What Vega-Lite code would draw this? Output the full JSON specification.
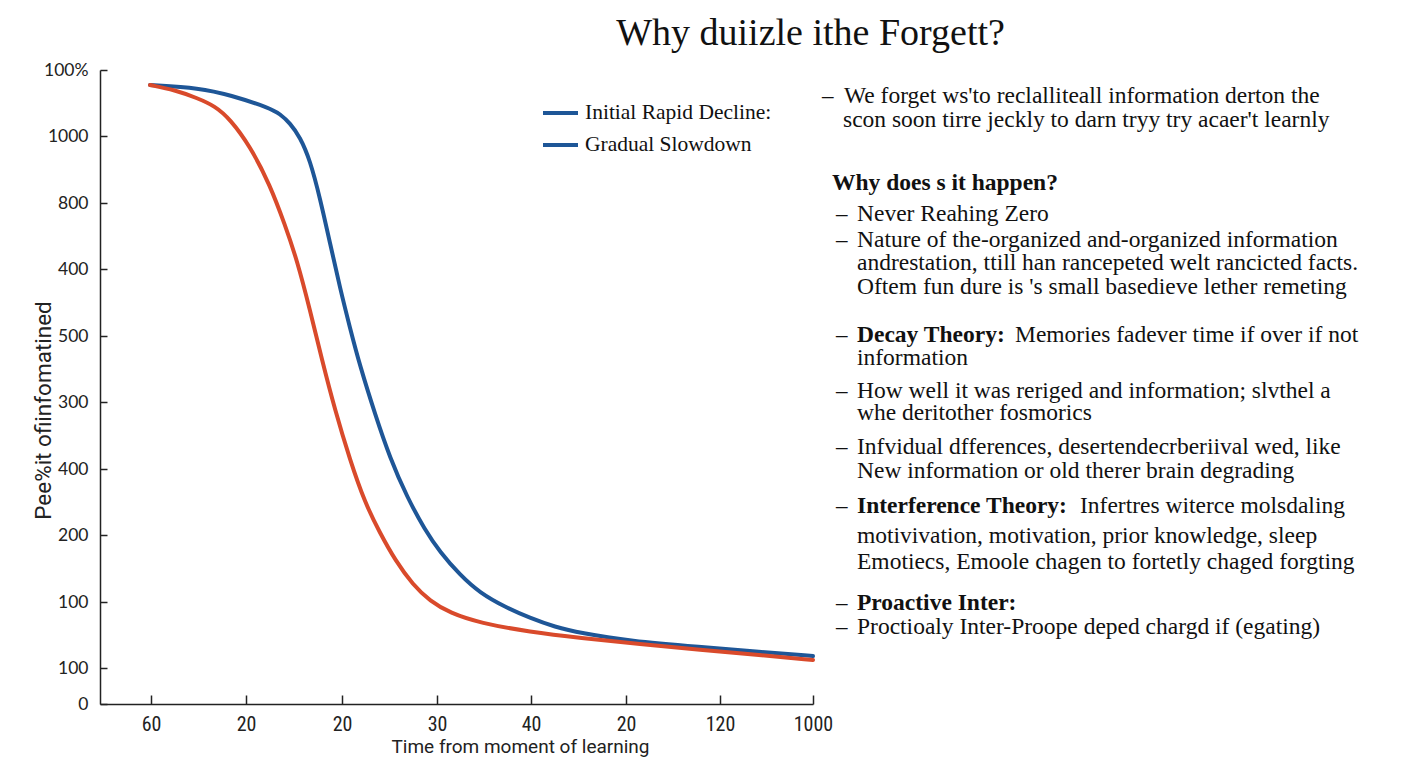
{
  "$schema": "https://vega.github.io/schema/vega-lite/v6.json",
  "width": 713,
  "height": 634,
  "autosize": {"type": "none"},
  "padding": {"left": 100, "top": 70, "right": 595, "bottom": 64},
  "background": "white",
  "title": {
    "text": "Why duiizle ithe Forgett?",
    "font": "Liberation Serif",
    "fontSize": 38,
    "fontWeight": "normal",
    "color": "#111",
    "anchor": "middle",
    "dx": 354,
    "offset": 8
  },
  "config": {
    "view": {"stroke": null},
    "axis": {"grid": false, "domainColor": "#222", "tickColor": "#222", "domainWidth": 1.5, "tickWidth": 1.5, "labelColor": "#222", "titleColor": "#222", "titleFontWeight": "normal"}
  },
  "resolve": {"scale": {"color": "independent"}, "legend": {"color": "independent"}},
  "datasets": {
    "curves": [
      {"series": "Gradual Slowdown", "t": 50, "r": 619},
      {"series": "Gradual Slowdown", "t": 100, "r": 616},
      {"series": "Gradual Slowdown", "t": 130, "r": 609},
      {"series": "Gradual Slowdown", "t": 170, "r": 596},
      {"series": "Gradual Slowdown", "t": 180, "r": 590},
      {"series": "Gradual Slowdown", "t": 190, "r": 581},
      {"series": "Gradual Slowdown", "t": 200, "r": 567},
      {"series": "Gradual Slowdown", "t": 210, "r": 544},
      {"series": "Gradual Slowdown", "t": 220, "r": 506},
      {"series": "Gradual Slowdown", "t": 230, "r": 461},
      {"series": "Gradual Slowdown", "t": 240, "r": 416},
      {"series": "Gradual Slowdown", "t": 250, "r": 376},
      {"series": "Gradual Slowdown", "t": 260, "r": 338},
      {"series": "Gradual Slowdown", "t": 275, "r": 290},
      {"series": "Gradual Slowdown", "t": 290, "r": 246},
      {"series": "Gradual Slowdown", "t": 307, "r": 207},
      {"series": "Gradual Slowdown", "t": 325, "r": 174},
      {"series": "Gradual Slowdown", "t": 340, "r": 152},
      {"series": "Gradual Slowdown", "t": 360, "r": 129},
      {"series": "Gradual Slowdown", "t": 380, "r": 111},
      {"series": "Gradual Slowdown", "t": 405, "r": 97},
      {"series": "Gradual Slowdown", "t": 430, "r": 86},
      {"series": "Gradual Slowdown", "t": 455, "r": 77},
      {"series": "Gradual Slowdown", "t": 480, "r": 71},
      {"series": "Gradual Slowdown", "t": 530, "r": 63},
      {"series": "Gradual Slowdown", "t": 600, "r": 57},
      {"series": "Gradual Slowdown", "t": 660, "r": 52},
      {"series": "Gradual Slowdown", "t": 713, "r": 48},
      {"series": "Initial Rapid Decline:", "t": 50, "r": 619},
      {"series": "Initial Rapid Decline:", "t": 75, "r": 614},
      {"series": "Initial Rapid Decline:", "t": 97, "r": 606},
      {"series": "Initial Rapid Decline:", "t": 115, "r": 598},
      {"series": "Initial Rapid Decline:", "t": 130, "r": 585},
      {"series": "Initial Rapid Decline:", "t": 150, "r": 558},
      {"series": "Initial Rapid Decline:", "t": 170, "r": 519},
      {"series": "Initial Rapid Decline:", "t": 185, "r": 479},
      {"series": "Initial Rapid Decline:", "t": 197, "r": 444},
      {"series": "Initial Rapid Decline:", "t": 210, "r": 394},
      {"series": "Initial Rapid Decline:", "t": 222, "r": 344},
      {"series": "Initial Rapid Decline:", "t": 235, "r": 294},
      {"series": "Initial Rapid Decline:", "t": 250, "r": 244},
      {"series": "Initial Rapid Decline:", "t": 265, "r": 201},
      {"series": "Initial Rapid Decline:", "t": 280, "r": 171},
      {"series": "Initial Rapid Decline:", "t": 295, "r": 144},
      {"series": "Initial Rapid Decline:", "t": 313, "r": 119},
      {"series": "Initial Rapid Decline:", "t": 330, "r": 103},
      {"series": "Initial Rapid Decline:", "t": 350, "r": 91},
      {"series": "Initial Rapid Decline:", "t": 380, "r": 81},
      {"series": "Initial Rapid Decline:", "t": 430, "r": 72},
      {"series": "Initial Rapid Decline:", "t": 480, "r": 66},
      {"series": "Initial Rapid Decline:", "t": 540, "r": 60},
      {"series": "Initial Rapid Decline:", "t": 600, "r": 54},
      {"series": "Initial Rapid Decline:", "t": 660, "r": 49},
      {"series": "Initial Rapid Decline:", "t": 713, "r": 44}
    ],
    "notes": [
      {"t": 744, "r": 608, "text": "We forget ws'to reclalliteall information derton the"},
      {"t": 743, "r": 584, "text": "scon soon tirre jeckly to darn tryy try acaer't learnly"},
      {"t": 757, "r": 490, "text": "Never Reahing Zero"},
      {"t": 757, "r": 464, "text": "Nature of the-organized and-organized information"},
      {"t": 757, "r": 441, "text": "andrestation, ttill han rancepeted welt rancicted facts."},
      {"t": 757, "r": 417, "text": "Oftem fun dure is 's small basedieve lether remeting"},
      {"t": 915, "r": 369, "text": "Memories fadever time if over if not"},
      {"t": 757, "r": 346, "text": "information"},
      {"t": 757, "r": 313, "text": "How well it was reriged and information; slvthel a"},
      {"t": 757, "r": 291, "text": "whe deritother fosmorics"},
      {"t": 757, "r": 257, "text": "Infvidual dfferences, desertendecrberiival wed, like"},
      {"t": 757, "r": 233, "text": "New information or old therer brain degrading"},
      {"t": 980, "r": 198, "text": "Infertres witerce molsdaling"},
      {"t": 757, "r": 168, "text": "motivivation, motivation, prior knowledge, sleep"},
      {"t": 757, "r": 142, "text": "Emotiecs, Emoole chagen to fortetly chaged forgting"},
      {"t": 757, "r": 77, "text": "Proctioaly Inter-Proope deped chargd if (egating)"}
    ],
    "boldNotes": [
      {"t": 732, "r": 521, "text": "Why does  s it happen?"},
      {"t": 757, "r": 369, "text": "Decay Theory:"},
      {"t": 757, "r": 198, "text": "Interference Theory:"},
      {"t": 757, "r": 101, "text": "Proactive Inter:"}
    ],
    "dashes": [
      {"t": 722, "r": 608, "text": "–"},
      {"t": 736, "r": 490, "text": "–"},
      {"t": 736, "r": 464, "text": "–"},
      {"t": 736, "r": 369, "text": "–"},
      {"t": 736, "r": 313, "text": "–"},
      {"t": 736, "r": 257, "text": "–"},
      {"t": 736, "r": 198, "text": "–"},
      {"t": 736, "r": 101, "text": "–"},
      {"t": 736, "r": 77, "text": "–"}
    ]
  },
  "layer": [
    {
      "data": {"name": "curves"},
      "mark": {"type": "line", "strokeWidth": 4, "interpolate": "basis", "strokeCap": "round"},
      "encoding": {
        "x": {
          "field": "t", "type": "quantitative",
          "scale": {"domain": [0, 713], "nice": false, "zero": false},
          "axis": {
            "title": "Time from moment of learning",
            "titleFont": "Roboto",
            "titleFontSize": 19,
            "titleX": 420, "titleY": 42, "titleAlign": "center", "titleBaseline": "middle",
            "values": [51, 146, 242, 337, 431, 526, 620, 713],
            "labelExpr": "['60','20','20','30','40','20','120','1000'][indexof([51,146,242,337,431,526,620,713], datum.value)]",
            "labelFont": "Liberation Sans Narrow, Roboto Condensed, Roboto",
            "labelFontSize": 20,
            "tickSize": -9,
            "labelPadding": 19,
            "labelFlush": false,
            "labelOverlap": false
          }
        },
        "y": {
          "field": "r", "type": "quantitative",
          "scale": {"domain": [0, 634], "nice": false, "zero": false},
          "axis": {
            "title": "Pee%it ofiinfomatined",
            "titleFont": "Roboto",
            "titleFontSize": 22.5,
            "titleX": -57, "titleY": 340, "titleAlign": "center", "titleBaseline": "middle", "titleAngle": 270,
            "values": [0, 36, 102, 169, 235, 302, 368, 435, 501, 568, 634],
            "labelExpr": "['0','100','100','200','400','300','500','400','800','1000','100%'][indexof([0,36,102,169,235,302,368,435,501,568,634], datum.value)]",
            "labelFont": "Lato, Open Sans, sans-serif",
            "labelFontSize": 17.5,
            "tickSize": -7,
            "labelPadding": 19,
            "labelFlush": false,
            "labelOverlap": false
          }
        },
        "color": {
          "field": "series", "type": "nominal",
          "scale": {"domain": ["Initial Rapid Decline:", "Gradual Slowdown"], "range": ["#d94a2b", "#1e5697"]},
          "legend": null
        },
        "order": {"field": "series", "sort": "ascending"}
      }
    },
    {
      "data": {"name": "curves"},
      "mark": {"type": "line", "opacity": 0, "strokeWidth": 4},
      "encoding": {
        "x": {"field": "t", "type": "quantitative"},
        "y": {"field": "r", "type": "quantitative"},
        "color": {
          "field": "series", "type": "nominal",
          "scale": {"domain": ["Initial Rapid Decline:", "Gradual Slowdown"], "range": ["#1e5697", "#1e5697"]},
          "legend": {
            "title": null,
            "orient": "none",
            "legendX": 441,
            "legendY": 28,
            "padding": 0,
            "symbolType": "stroke",
            "symbolSize": 1225,
            "symbolStrokeWidth": 4,
            "symbolOpacity": 1,
            "labelFont": "Liberation Serif",
            "labelFontSize": 21.5,
            "labelColor": "#111",
            "labelOffset": 5,
            "labelLimit": 400,
            "clipHeight": 30,
            "rowPadding": 2
          }
        }
      }
    },
    {
      "data": {"name": "dashes"},
      "mark": {"type": "text", "align": "left", "baseline": "middle", "font": "Liberation Serif", "fontSize": 23, "color": "#111"},
      "encoding": {
        "x": {"field": "t", "type": "quantitative"},
        "y": {"field": "r", "type": "quantitative"},
        "text": {"field": "text"}
      }
    },
    {
      "data": {"name": "notes"},
      "mark": {"type": "text", "align": "left", "baseline": "middle", "font": "Liberation Serif", "fontSize": 23.5, "color": "#111"},
      "encoding": {
        "x": {"field": "t", "type": "quantitative"},
        "y": {"field": "r", "type": "quantitative"},
        "text": {"field": "text"}
      }
    },
    {
      "data": {"name": "boldNotes"},
      "mark": {"type": "text", "align": "left", "baseline": "middle", "font": "Liberation Serif", "fontSize": 23.5, "fontWeight": "bold", "color": "#111"},
      "encoding": {
        "x": {"field": "t", "type": "quantitative"},
        "y": {"field": "r", "type": "quantitative"},
        "text": {"field": "text"}
      }
    }
  ]
}
